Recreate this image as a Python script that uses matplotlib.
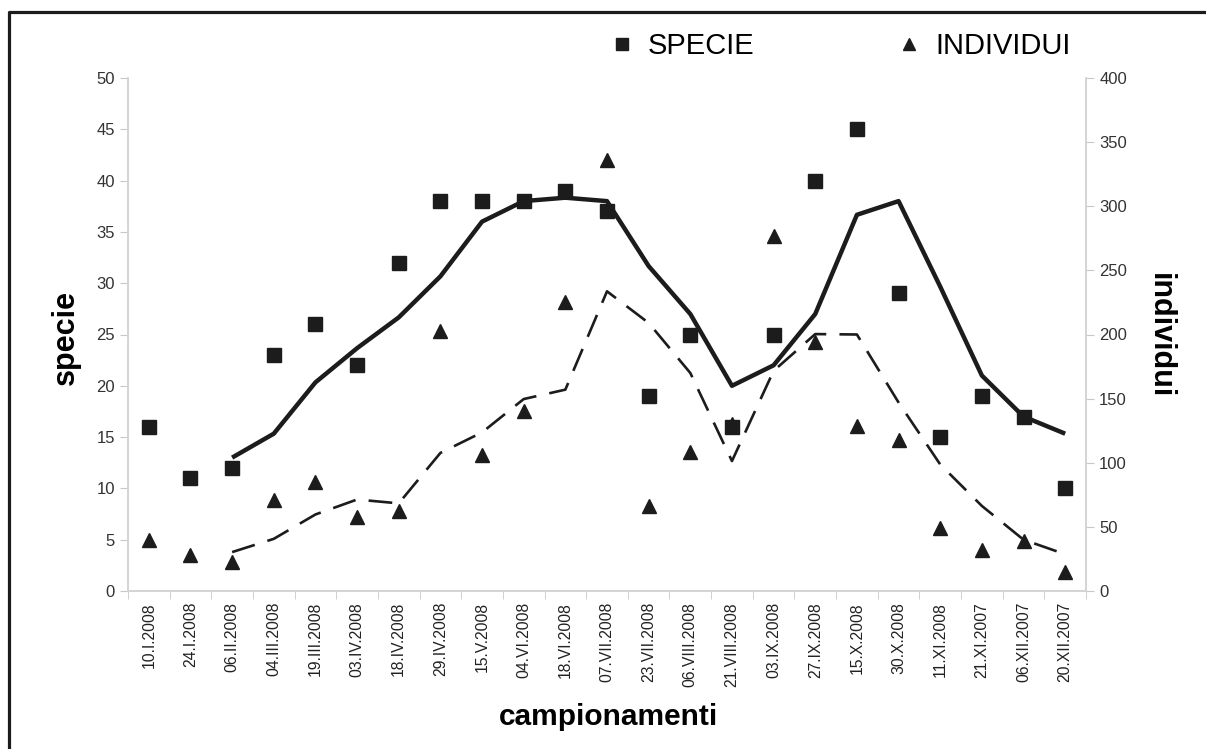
import matplotlib.pyplot as plt
from matplotlib.lines import Line2D
import numpy as np
import pandas as pd

dates = ['10.I.2008', '24.I.2008', '06.II.2008', '04.III.2008', '19.III.2008',
         '03.IV.2008', '18.IV.2008', '29.IV.2008', '15.V.2008', '04.VI.2008',
         '18.VI.2008', '07.VII.2008', '23.VII.2008', '06.VIII.2008', '21.VIII.2008',
         '03.IX.2008', '27.IX.2008', '15.X.2008', '30.X.2008', '11.XI.2008',
         '21.XI.2007', '06.XII.2007', '20.XII.2007']
specie = [16, 11, 12, 23, 26, 22, 32, 38, 38, 38, 39, 37, 19, 25, 16,
          25, 40, 45, 29, 15, 19, 17, 10]
individui = [40, 28, 23, 71, 85, 58, 62, 203, 106, 140, 225, 336, 66, 108, 130,
             277, 194, 129, 118, 49, 32, 39, 15]

# Excel-style 3 point moving average trendlines
specie_ma = pd.Series(specie).rolling(3).mean()
individui_ma = pd.Series(individui).rolling(3).mean()

plt.rcParams['font.family'] = ['Liberation Sans', 'DejaVu Sans']

W, H = 1206, 749
fig = plt.figure(figsize=(W/100, H/100), dpi=100)
ax = fig.add_axes([128/W, 1-591/H, 958/W, 513/H])
ax2 = ax.twinx()

x = np.arange(len(dates))
dark = '#1c1c1c'
ax.plot(x, specie_ma, color=dark, lw=3.2, solid_capstyle='butt')
ax.plot(x, specie, 's', color=dark, ms=10, ls='none')
ax2.plot(x, individui_ma, color=dark, lw=1.9, dashes=(9, 5))
ax2.plot(x, individui, '^', color=dark, ms=10, ls='none')

ax.set_xlim(-0.5, len(dates)-0.5)
ax.set_ylim(0, 50)
ax2.set_ylim(0, 400)
ax.set_yticks(range(0, 51, 5))
ax2.set_yticks(range(0, 401, 50))

ax.set_xticks(x)
ax.set_xticklabels(dates, rotation=90, fontsize=11.3, color='#222222')
ax.set_xticks(np.arange(-0.5, len(dates), 1), minor=True)
ax.tick_params(axis='x', which='major', length=0, pad=8)
ax.tick_params(axis='x', which='minor', length=6, color='#c8c8c8')

for a in (ax, ax2):
    for s in a.spines.values():
        s.set_color('#d4d4d4')
        s.set_linewidth(1.2)
    a.spines['top'].set_visible(False)
    a.tick_params(axis='y', length=6, color='#c8c8c8', labelsize=12,
                  labelcolor='#333333')

fig.text(66/W, 1-337/H, 'specie', rotation=90, ha='center', va='center',
         fontsize=22, fontweight='bold')
fig.text(1160/W, 1-336/H, 'individui', rotation=-90, ha='center', va='center',
         fontsize=22, fontweight='bold')
fig.text(608/W, 1-717/H, 'campionamenti', ha='center', va='center',
         fontsize=21.5, fontweight='bold')

handles = [Line2D([], [], marker='s', color=dark, ls='none', ms=9),
           Line2D([], [], marker='^', color=dark, ls='none', ms=9)]
fig.legend(handles, ['SPECIE', 'INDIVIDUI'], ncol=2, frameon=False,
           loc='center', bbox_to_anchor=(839/W, 1-46/H),
           fontsize=21, columnspacing=4.8, handlelength=1, handletextpad=0.4)

# frame of the original figure: only top and left edges visible
fig.add_artist(Line2D([9/W, 9/W, 1], [0, 1-11.5/H, 1-11.5/H],
                      transform=fig.transFigure, color=dark, lw=2.3))

fig.savefig('out.png', dpi=100)
